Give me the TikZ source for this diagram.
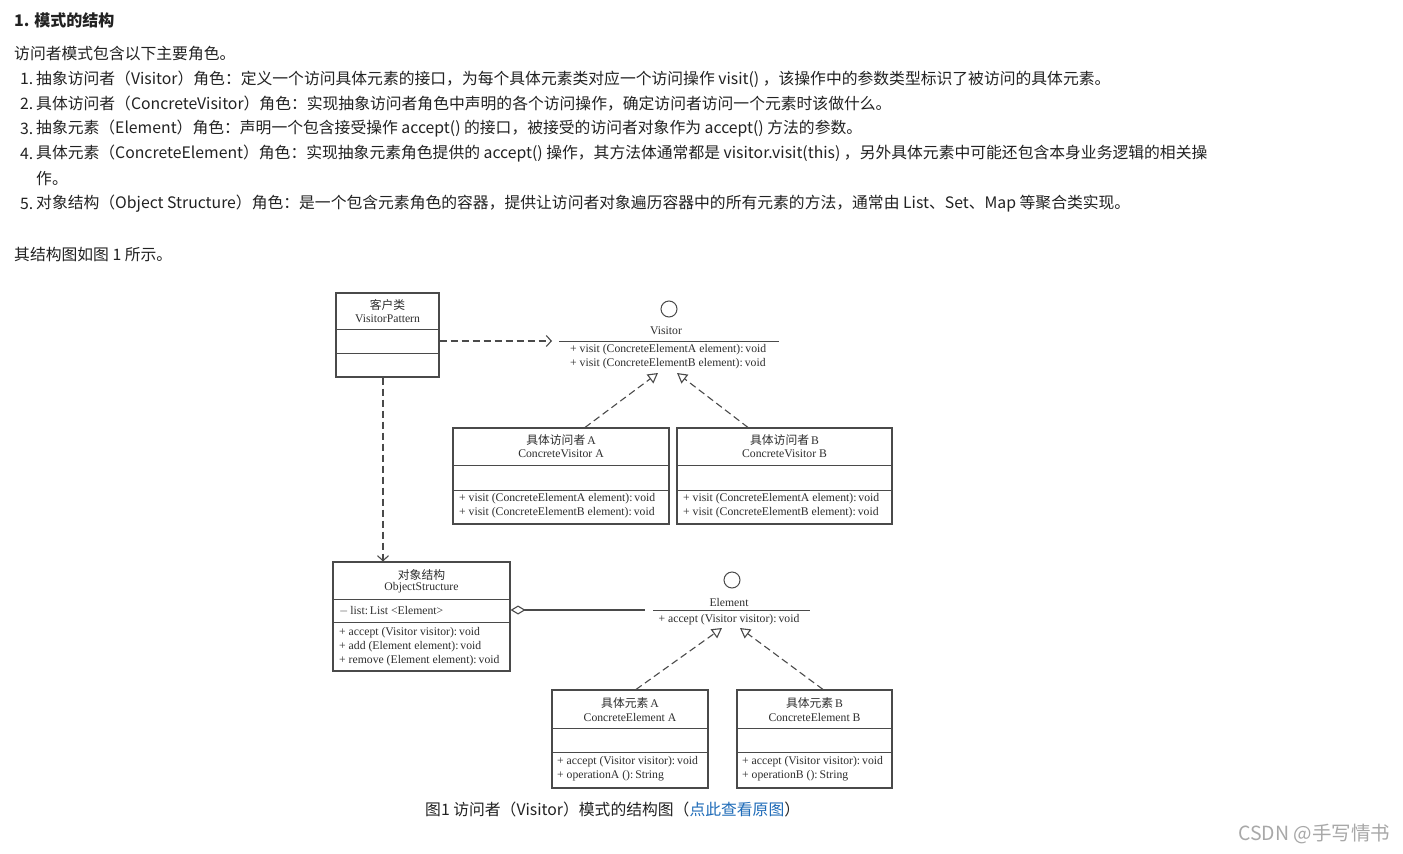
\documentclass[tikz,border=0pt]{standalone}
\usepackage{fontspec}
\setmainfont{Liberation Serif}
\newfontfamily\cjk{Noto Sans CJK SC}
\usetikzlibrary{arrows.meta}
\definecolor{bodytxt}{HTML}{222222}
\definecolor{diag}{HTML}{4A4A4A}
\definecolor{dtext}{HTML}{2E2E2E}
\definecolor{linkblue}{HTML}{1E6BB8}
\definecolor{wm}{HTML}{A8A8A8}
\tikzset{
  body/.style={anchor=west, inner sep=0pt, text=bodytxt, font=\cjk\fontsize{15.8}{18}\selectfont},
  dtxt/.style={inner sep=0pt, text=dtext, font=\fontsize{11.7}{12}\selectfont},
  dleft/.style={dtxt, anchor=west},
  box/.style={draw=diag, line width=1.1pt, inner sep=0pt},
  divider/.style={draw=diag, line width=1pt},
  dep/.style={draw=diag, line width=1.1pt, dash pattern=on 7pt off 4pt, -{Straight Barb[length=5pt,width=11pt]}},
  real/.style={draw=diag, line width=1.1pt, dash pattern=on 7pt off 4pt, -{Triangle[open,length=10pt,width=11pt,fill=white]}},
  aggr/.style={draw=diag, line width=1.1pt, {Diamond[open,length=15pt,width=9pt,fill=white]}-},
}
\newcommand{\cz}[1]{{\cjk\fontsize{11.8}{12}\selectfont #1}}
\begin{document}
\begin{tikzpicture}[x=1pt,y=-1pt]
\useasboundingbox[fill=white] (0,0) rectangle (1403,854);

% ---------- text ----------
\node[body, font=\cjk\bfseries\fontsize{16}{18}\selectfont] (h1) at (14,20) {1. 模式的结构};
\node[body] (p0) at (14,54) {访问者模式包含以下主要角色。};
\node[body] (n1) at (20,79) {1.};
\node[body] (t1) at (36,79) {抽象访问者（Visitor）角色：定义一个访问具体元素的接口，为每个具体元素类对应一个访问操作 visit() ，该操作中的参数类型标识了被访问的具体元素。};
\node[body] (n2) at (20,104) {2.};
\node[body] (t2) at (36,104) {具体访问者（ConcreteVisitor）角色：实现抽象访问者角色中声明的各个访问操作，确定访问者访问一个元素时该做什么。};
\node[body] (n3) at (20,129) {3.};
\node[body] (t3) at (36,129) {抽象元素（Element）角色：声明一个包含接受操作 accept() 的接口，被接受的访问者对象作为 accept() 方法的参数。};
\node[body] (n4) at (20,154) {4.};
\node[body] (t4) at (36,154) {具体元素（ConcreteElement）角色：实现抽象元素角色提供的 accept() 操作，其方法体通常都是 visitor.visit(this) ，另外具体元素中可能还包含本身业务逻辑的相关操};
\node[body] (t4b) at (36,179) {作。};
\node[body] (n5) at (20,204) {5.};
\node[body] (t5) at (36,204) {对象结构（Object Structure）角色：是一个包含元素角色的容器，提供让访问者对象遍历容器中的所有元素的方法，通常由 List、Set、Map 等聚合类实现。};
\node[body] (p1) at (14,254) {其结构图如图 1 所示。};

% ---------- client ----------
\node[box, minimum width=103pt, minimum height=84pt] (client) at (387.5,335) {};
\draw[divider] (336,329) -- (439,329);
\draw[divider] (336,353) -- (439,353);
\node[dtxt] (clientA) at (387.5,305) {\cz{客户类}};
\node[dtxt] (clientB) at (387.5,319) {VisitorPattern};

% ---------- Visitor interface ----------
\node[draw=diag, line width=1pt, circle, minimum size=16pt, inner sep=0pt] (vcirc) at (669,309) {};
\node[dtxt] (vname) at (666,331) {Visitor};
\coordinate (vl) at (559,341);
\coordinate (vr) at (779,341);
\draw[divider] (vl) -- (vr);
\node[dleft] (vm1) at (570,350) {+ visit (ConcreteElementA element):\,void};
\node[dleft] (vm2) at (570,364) {+ visit (ConcreteElementB element):\,void};
\coordinate (vtipA) at (658,373);
\coordinate (vtipB) at (677,373);

\draw[dep, shorten >=7pt] (client.east |- vl) -- (vl);

% ---------- Concrete visitors ----------
\node[box, minimum width=216pt, minimum height=96pt] (cva) at (561,476) {};
\draw[divider] (453,465) -- (669,465);
\draw[divider] (453,490) -- (669,490);
\node[dtxt] (cvaA) at (561,440) {\cz{具体访问者}\,A};
\node[dtxt] (cvaB) at (561,454) {ConcreteVisitor A};
\node[dleft] (cvam1) at (459,499) {+ visit (ConcreteElementA element):\,void};
\node[dleft] (cvam2) at (459,513) {+ visit (ConcreteElementB element):\,void};

\node[box, minimum width=215pt, minimum height=96pt] (cvb) at (784.5,476) {};
\draw[divider] (677,465) -- (892,465);
\draw[divider] (677,490) -- (892,490);
\node[dtxt] (cvbA) at (784.5,440) {\cz{具体访问者}\,B};
\node[dtxt] (cvbB) at (784.5,454) {ConcreteVisitor B};
\node[dleft] (cvbm1) at (683,499) {+ visit (ConcreteElementA element):\,void};
\node[dleft] (cvbm2) at (683,513) {+ visit (ConcreteElementB element):\,void};

\draw[real] ([xshift=24pt]cva.north) -- (vtipA);
\draw[real] ([xshift=-36.5pt]cvb.north) -- (vtipB);

% ---------- Object structure ----------
\node[box, minimum width=177pt, minimum height=109pt] (os) at (421.5,616.5) {};
\draw[divider] (333,599) -- (510,599);
\draw[divider] (333,622) -- (510,622);
\node[dtxt] (osA) at (421.5,575) {\cz{对象结构}};
\node[dtxt] (osB) at (421.5,588) {ObjectStructure};
\node[dleft] (osl) at (339,611) {$-$\,list:\,List <Element>};
\node[dleft] (osm1) at (339,633) {+ accept (Visitor visitor):\,void};
\node[dleft] (osm2) at (339,647) {+ add (Element element):\,void};
\node[dleft] (osm3) at (339,661) {+ remove (Element element):\,void};

\draw[dep] (client.south -| 383,0) -- (os.north -| 383,0);

% ---------- Element interface ----------
\node[draw=diag, line width=1pt, circle, minimum size=16pt, inner sep=0pt] (ecirc) at (732,580) {};
\node[dtxt] (ename) at (729,602) {Element};
\coordinate (el) at (653,610);
\coordinate (er) at (810,610);
\draw[divider] (el) -- (er);
\node[dtxt] (em1) at (729,620) {+ accept (Visitor visitor):\,void};
\coordinate (aggEnd) at (645,610);
\coordinate (etipA) at (722,628);
\coordinate (etipB) at (740,628);

\draw[aggr] (os.east |- el) -- (aggEnd);

% ---------- Concrete elements ----------
\node[box, minimum width=156pt, minimum height=98pt] (cea) at (630,739) {};
\draw[divider] (552,728) -- (708,728);
\draw[divider] (552,752) -- (708,752);
\node[dtxt] (ceaA) at (630,703) {\cz{具体元素}\,A};
\node[dtxt] (ceaB) at (630,717) {ConcreteElement A};
\node[dleft] (ceam1) at (557,762) {+ accept (Visitor visitor):\,void};
\node[dleft] (ceam2) at (557,776) {+ operationA ():\,String};

\node[box, minimum width=155pt, minimum height=98pt] (ceb) at (814.5,739) {};
\draw[divider] (737,728) -- (892,728);
\draw[divider] (737,752) -- (892,752);
\node[dtxt] (cebA) at (814.5,703) {\cz{具体元素}\,B};
\node[dtxt] (cebB) at (814.5,717) {ConcreteElement B};
\node[dleft] (cebm1) at (742,762) {+ accept (Visitor visitor):\,void};
\node[dleft] (cebm2) at (742,776) {+ operationB ():\,String};

\draw[real] ([xshift=6pt]cea.north) -- (etipA);
\draw[real] ([xshift=8.5pt]ceb.north) -- (etipB);

% ---------- caption & watermark ----------
\node[body] (cap) at (425,809) {图1 访问者（Visitor）模式的结构图（\textcolor{linkblue}{点此查看原图}）};
\node[body, text=wm, font=\cjk\fontsize{19.5}{21}\selectfont] (wmk) at (1238,834) {CSDN @手写情书};
\end{tikzpicture}
\end{document}
